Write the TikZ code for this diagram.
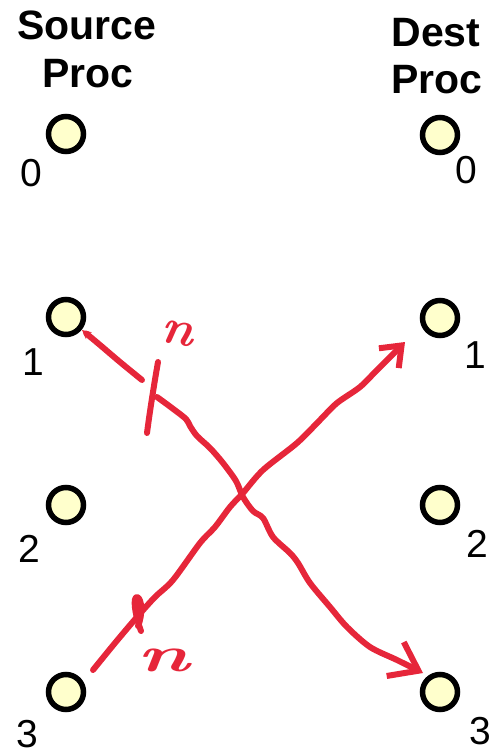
\documentclass[tikz,border=0pt]{standalone}
\usepackage{fontspec}
\setsansfont{Liberation Sans}
\usetikzlibrary{arrows.meta}
\definecolor{penred}{RGB}{230,38,58}
\definecolor{procfill}{RGB}{255,255,204}

\begin{document}
\begin{tikzpicture}[x=1pt, y=-1pt,
    proc/.style={circle, draw=black, line width=5.5pt, fill=procfill, minimum size=35pt, inner sep=0pt},
    num/.style={inner sep=0pt, font=\sffamily\fontsize{39}{39}\selectfont},
    title/.style={inner sep=0pt, anchor=base, font=\sffamily\bfseries\fontsize{41}{41}\selectfont},
    pen/.style={penred, line width=6pt, line cap=round, line join=round},
    scrawl/.style={penred, inner sep=0pt, font=\rmfamily\bfseries\itshape\fontsize{50}{50}\selectfont}]

    \useasboundingbox (0,0) rectangle (492,752);

    % --- Titres ---
    \node[title] (srcTitle) at (87,40) {Source};
    \node[title] (srcProc) at (88,88) {Proc};
    \node[title] (dstTitle) at (436,47) {Dest};
    \node[title] (dstProc) at (437,93) {Proc};

    % --- Processus source ---
    \node[proc] (src0) at (66,134) {};
    \node[proc] (src1) at (66,317) {};
    \node[proc] (src2) at (66,505) {};
    \node[proc] (src3) at (66,692) {};
    \node[num] (lsrc0) at (31,173) {0};
    \node[num] (lsrc1) at (33,362) {1};
    \node[num] (lsrc2) at (29,549) {2};
    \node[num] (lsrc3) at (27,734) {3};

    % --- Processus destination ---
    \node[proc] (dst0) at (440,135) {};
    \node[proc] (dst1) at (440,318) {};
    \node[proc] (dst2) at (440,505) {};
    \node[proc] (dst3) at (440,692) {};
    \node[num] (ldst0) at (466,170) {0};
    \node[num] (ldst1) at (475,355) {1};
    \node[num] (ldst2) at (477,544) {2};
    \node[num] (ldst3) at (480,731) {3};

    % --- Extrémités des flèches ---
    \coordinate (a1s) at (82,330);
    \coordinate (brk1a) at (142,380);
    \coordinate (brk1b) at (157,397);
    \coordinate (a1e) at (423,673);
    \coordinate (a2s) at (93,670);
    \coordinate (a2e) at (405,342);

    % --- Flèche 1 -> 3 ---
    \draw[pen, {Stealth[length=9pt,width=9pt]}-] plot[smooth, tension=0.5]
        coordinates {(a1s) (100,345) (120,362) (brk1a)};
    \draw[pen, -{Straight Barb[length=26pt,width=38pt]}] plot[smooth, tension=0.5]
        coordinates {(brk1b) (172,408) (186,419) (190,426) (197,436) (210,448)
        (223,463) (236,481) (243,497) (253,511) (263,518) (273,537) (290,553)
        (298,563) (310,583) (330,607) (347,627) (370,647) (397,660) (a1e)};
    \draw[pen] (158,362) .. controls (154,385) and (150,410) .. (147,433);
    \node[scrawl, rotate=-10] (n1) at (177,333) {n};

    % --- Flèche 3 -> 1 ---
    \draw[pen, -{Straight Barb[length=18pt,width=28pt]}] plot[smooth, tension=0.5]
        coordinates {(a2s) (115,643) (137,617) (155,597) (173,580) (200,543)
        (215,527) (230,507) (243,493) (263,470) (297,443) (320,420) (337,403)
        (360,387) (377,370) (392,355) (a2e)};
    \draw[pen] (141,631) .. controls (134,612) and (133,597) .. (137,597)
        .. controls (142,598) and (143,615) .. (138,626);
    \node[scrawl, xscale=1.6] (n2) at (163,660) {n};
\end{tikzpicture}
\end{document}
